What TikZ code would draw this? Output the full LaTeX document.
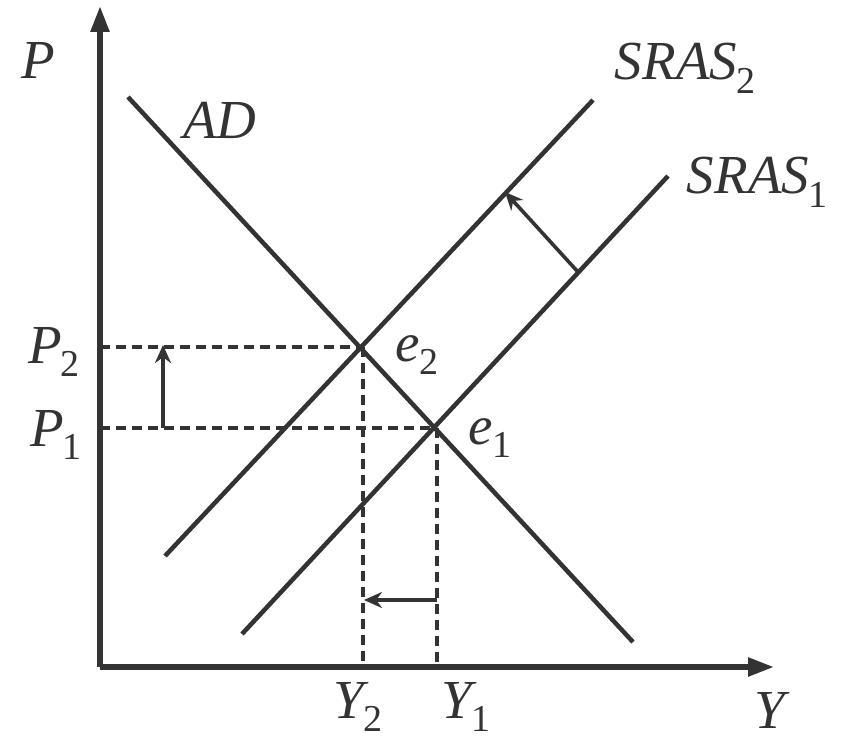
\documentclass[tikz,border=0pt]{standalone}
\usepackage{fontspec}
\setmainfont{Liberation Serif}
\usetikzlibrary{arrows.meta}
\newcommand\sublab[2]{\textit{#1}\kern-1pt\raisebox{-0.25em}{\fontsize{38}{40}\selectfont\upshape #2}}
\begin{document}
\begin{tikzpicture}[x=1pt,y=-1pt,
  ink/.style={draw=black!80, line width=4.5pt},
  axis/.style={draw=black!80, line width=5.5pt, -{Triangle[length=26pt,width=18pt]}},
  guide/.style={draw=black!80, line width=3.6pt, dash pattern=on 10pt off 6pt},
  tipped/.style={draw=black!80, line width=3.6pt, -{Stealth[length=18pt,width=16pt]}},
  lbl/.style={font=\fontsize{55}{60}\selectfont\itshape, text=black!80, inner sep=0pt}]
\useasboundingbox[fill=white] (0,0) rectangle (842,741);
% axes
\coordinate (O) at (100,667);
\coordinate (Ptop) at (100,6);
\coordinate (Yend) at (774,667);
\draw[axis] (O) -- (Ptop);
\draw[axis] (O) -- (Yend);
% equilibria
\coordinate (e2) at (361,347);
\coordinate (e1) at (435,428);
% curves
\coordinate (ADa) at (128,97);
\coordinate (ADb) at (633,642);
\coordinate (S2a) at (165,556);
\coordinate (S2b) at (593,100);
\coordinate (S1a) at (242,634);
\coordinate (S1b) at (668,176);
\draw[ink] (ADa) -- (ADb);
\draw[ink] (S2a) -- (S2b);
\draw[ink] (S1a) -- (S1b);
% guides
\coordinate (P2ax) at (100,347);
\coordinate (P1ax) at (100,428);
\coordinate (Y2ax) at (363,667);
\coordinate (Y1ax) at (437,667);
\draw[guide] (P2ax) -- (e2);
\draw[guide] (P1ax) -- (e1);
\draw[guide] (363,347) -- (Y2ax);
\draw[guide] (437,428) -- (Y1ax);
% shift arrows
\coordinate (upA) at (163,428);
\coordinate (upB) at (163,345);
\draw[tipped] (upA) -- (upB);
\coordinate (lfA) at (437,600);
\coordinate (lfB) at (364,600);
\draw[tipped] (lfA) -- (lfB);
\coordinate (shA) at (578,272);
\coordinate (shB) at (505,192);
\draw[tipped] (shA) -- (shB);
% labels
\node[lbl] (lP) at (38,60) {P};
\node[lbl] (lAD) at (220,120) {AD};
\node[lbl] (lS2) at (685,68) {\sublab{SRAS}{2}};
\node[lbl] (lS1) at (757,182) {\sublab{SRAS}{1}};
\node[lbl] (lP2) at (54,352) {\sublab{P}{2}};
\node[lbl] (lP1) at (56,435) {\sublab{P}{1}};
\node[lbl] (le2) at (417,355) {\sublab{e}{2}};
\node[lbl] (le1) at (490,438) {\sublab{e}{1}};
\node[lbl] (lY2) at (358,707) {\sublab{Y}{2}};
\node[lbl] (lY1) at (466,707) {\sublab{Y}{1}};
\node[lbl] (lY) at (770,710) {Y};
\end{tikzpicture}
\end{document}
